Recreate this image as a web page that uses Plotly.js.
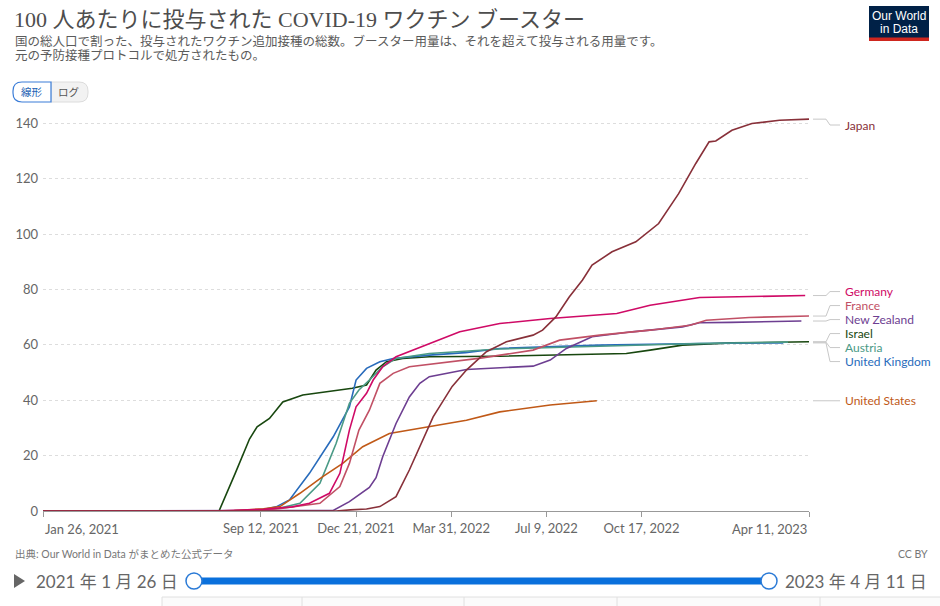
<!DOCTYPE html>
<html>
<head>
<meta charset="utf-8">
<script src="https://cdn.plot.ly/plotly-3.0.1.min.js"></script>
<style>html,body{margin:0;padding:0;background:#fff;}#chart{width:940px;height:606px;}</style>
</head>
<body>
<div id="chart"></div>
<script>
// ---------------- DATA ----------------
const countries = ['Japan','Germany','France','New Zealand','Israel','Austria','United Kingdom','United States'];

const japanDates = ['2021-01-26','2021-11-30','2021-12-15','2022-01-01','2022-01-15','2022-02-01','2022-02-15','2022-03-01','2022-03-08','2022-03-12','2022-04-01','2022-04-16','2022-05-07','2022-05-28','2022-06-25','2022-07-05','2022-07-19','2022-08-02','2022-08-16','2022-08-26','2022-09-16','2022-10-11','2022-11-04','2022-11-25','2022-12-13','2022-12-27','2023-01-03','2023-01-20','2023-02-10','2023-03-11','2023-04-11'];
const japanValues = [0,0,0.4,0.7,1.6,5.2,14.8,25.6,30.4,34,45,50.9,57.5,61.1,63.5,65.3,70.1,77.3,83.4,88.8,93.6,97.2,103.8,114.6,125.5,133.3,133.6,137.5,139.9,141.1,141.5];

const germanyDates = ['2021-01-26','2021-08-01','2021-09-15','2021-10-15','2021-11-02','2021-11-23','2021-12-04','2021-12-14','2021-12-21','2022-01-01','2022-01-08','2022-01-18','2022-02-01','2022-03-08','2022-04-09','2022-05-21','2022-07-13','2022-09-21','2022-10-26','2022-12-17','2023-02-25','2023-04-07'];
const germanyValues = [0,0.1,0.6,1.5,2.8,6.4,13.6,29.2,37.6,42.5,47.3,52.1,55.7,60.5,64.7,67.7,69.5,71.3,74.3,77.1,77.7,77.8];

const franceDates = ['2021-01-26','2021-09-01','2021-10-01','2021-10-23','2021-11-13','2021-12-04','2021-12-14','2021-12-24','2022-01-04','2022-01-15','2022-01-29','2022-02-15','2022-03-08','2022-04-01','2022-05-01','2022-06-25','2022-07-23','2022-09-03','2022-10-26','2022-12-07','2022-12-24','2023-02-07','2023-04-11'];
const franceValues = [0,0.1,0.8,1.8,2.8,8.8,17.2,29.2,36.4,46.1,49.7,52.1,53.0,54.0,55.2,58.1,61.7,63.5,65.3,67.1,68.9,69.9,70.4];

const newZealandDates = ['2021-01-26','2021-11-27','2021-12-14','2021-12-21','2022-01-04','2022-01-11','2022-01-18','2022-02-01','2022-02-15','2022-02-26','2022-03-08','2022-04-16','2022-06-25','2022-07-13','2022-07-30','2022-08-26','2022-10-07','2022-11-29','2022-12-17','2023-01-19','2023-04-03'];
const newZealandValues = [0,0.2,3.4,5,8.5,12,19.6,31.6,41.2,46.1,48.5,51.1,52.3,54.5,58.7,62.9,64.7,66.5,68,68.1,68.6];

const israelDates = ['2021-01-26','2021-07-30','2021-08-16','2021-08-31','2021-09-08','2021-09-21','2021-10-05','2021-10-26','2021-12-17','2022-01-01','2022-01-11','2022-01-22','2022-02-08','2022-03-08','2022-05-21','2022-08-01','2022-10-01','2022-10-26','2022-11-29','2023-01-19','2023-04-11'];
const israelValues = [0,0,13.6,26,30.4,33.4,39.4,41.9,44.3,45.5,50.9,53.9,55.1,55.7,55.9,56.5,56.9,58.1,59.9,60.7,61.1];

const austriaDates = ['2021-01-26','2021-09-01','2021-10-01','2021-10-23','2021-11-13','2021-11-30','2021-12-14','2021-12-24','2022-01-04','2022-01-18','2022-02-01','2022-03-08','2022-05-21','2022-09-03','2022-12-17','2023-03-20'];
const austriaValues = [0,0.2,1.0,2.8,10,24.4,38.9,43.7,47.3,52.1,55.1,56.9,58.5,59.6,60.5,61.0];

const ukDates = ['2021-01-26','2021-08-15','2021-09-14','2021-09-28','2021-10-12','2021-11-02','2021-11-27','2021-12-14','2021-12-21','2022-01-01','2022-01-15','2022-01-29','2022-03-08','2022-04-15','2022-05-21','2022-09-03','2022-12-17','2023-03-15'];
const ukValues = [0,0,0.5,1.5,4.0,13.6,26.8,37.6,47.3,51.5,53.9,55.1,56.3,57.2,58.7,59.9,60.5,60.7];

const usDates = ['2021-01-26','2021-08-15','2021-09-15','2021-10-02','2021-10-23','2021-11-16','2021-12-07','2021-12-28','2022-01-25','2022-02-15','2022-03-08','2022-04-16','2022-05-21','2022-07-13','2022-08-31'];
const usValues = [0,0.2,0.8,1.6,6.4,12.4,17.2,23.2,28,29.2,30.4,32.8,35.8,38.3,39.8];

const tickDates = ['2021-01-26','2021-09-12','2021-12-21','2022-03-31','2022-07-09','2022-10-17','2023-04-11'];
const tickLabels = ['Jan 26, 2021','Sep 12, 2021','Dec 21, 2021','Mar 31, 2022','Jul 9, 2022','Oct 17, 2022','Apr 11, 2023'];
const startLabel = '2021 年 1 月 26 日';
const endLabel = '2023 年 4 月 11 日';

// ---------------- STYLE ----------------
const seriesX = [japanDates,germanyDates,franceDates,newZealandDates,israelDates,austriaDates,ukDates,usDates];
const seriesY = [japanValues,germanyValues,franceValues,newZealandValues,israelValues,austriaValues,ukValues,usValues];
const colors = ['#883039','#CF0A66','#C15065','#6D3E91','#18470F','#4A9A86','#286BBB','#C05917'];

const W = 940, H = 606;
const PL = 43, PR = 809, PT = 115, PB = 511;
const YMAX = 143;
function px(x){ return (x - PL) / (PR - PL); }
function py(y){ return (PB - y) / (PB - PT); }
const unitsPerPx = YMAX / (PB - PT);

const SANS = 'Lato, "Noto Sans CJK JP", sans-serif';

// traces
const order = [4,6,5,7,3,2,1,0];
const traces = order.map(i => ({
  x: seriesX[i], y: seriesY[i], type: 'scatter', mode: 'lines', name: countries[i],
  line: {color: colors[i], width: 1.6}, hoverinfo: 'skip'
}));

// label placement (spread overlapping labels)
const labelGap = 14 * unitsPerPx;
const labelTop = YMAX - 10 * unitsPerPx;
const items = countries.map((c,i) => ({i, v: seriesY[i][seriesY[i].length-1]})).sort((a,b)=>b.v-a.v);
const groups = items.map(it => ({members:[it]}));
function placeGroup(g){
  const mean = g.members.reduce((s,m)=>s+m.v,0)/g.members.length;
  let start = mean + labelGap*(g.members.length-1)/2;
  if (start > labelTop) start = labelTop;
  g.members.forEach((m,k)=>{ m.label = start - k*labelGap; });
}
groups.forEach(placeGroup);
let mergedAny = true;
while (mergedAny) {
  mergedAny = false;
  for (let k = 0; k < groups.length-1; k++) {
    const a = groups[k], b = groups[k+1];
    const aLow = a.members[a.members.length-1].label, bHigh = b.members[0].label;
    if (aLow - bHigh < labelGap - 1e-6) {
      const g = {members: a.members.concat(b.members)};
      placeGroup(g);
      groups.splice(k, 2, g);
      mergedAny = true; break;
    }
  }
}

const annotations = [];
const shapes = [];
items.forEach(m => {
  annotations.push({xref:'paper', yref:'y', x: px(843), y: m.label, xanchor:'left', yanchor:'middle',
    text: countries[m.i], showarrow:false, font:{family:SANS, size:12, color: colors[m.i]}});
  shapes.push({type:'path', xref:'paper', yref:'y', layer:'above',
    path: `M ${px(813)},${m.v} L ${px(826)},${m.v} L ${px(830)},${m.label} L ${px(840)},${m.label}`,
    line:{color:'#c8c8c8', width:1}});
});

// first/last tick labels (left/right aligned)
annotations.push({xref:'x', yref:'paper', x: tickDates[0], y: py(519), xanchor:'left', yanchor:'top', showarrow:false,
  text: tickLabels[0], font:{family:SANS, size:13, color:'#666'}});
annotations.push({xref:'x', yref:'paper', x: tickDates[tickDates.length-1], y: py(519), xanchor:'right', yanchor:'top', showarrow:false,
  text: tickLabels[tickLabels.length-1], font:{family:SANS, size:13, color:'#666'}});
const midText = tickLabels.map((t,k)=> (k===0||k===tickLabels.length-1) ? '' : t);

// header
annotations.push({xref:'paper', yref:'paper', x: px(12), y: py(19), xanchor:'left', yanchor:'middle', showarrow:false,
  text:'100 人あたりに投与された COVID-19 ワクチン ブースター',
  font:{family:'"Liberation Serif", "Noto Sans CJK JP", serif', size:22, color:'#4d4d4d'}});
annotations.push({xref:'paper', yref:'paper', x: px(13), y: py(41), xanchor:'left', yanchor:'middle', showarrow:false,
  text:'国の総人口で割った、投与されたワクチン追加接種の総数。ブースター用量は、それを超えて投与される用量です。',
  font:{family:SANS, size:12.5, color:'#5b5b5b'}});
annotations.push({xref:'paper', yref:'paper', x: px(13), y: py(56), xanchor:'left', yanchor:'middle', showarrow:false,
  text:'元の予防接種プロトコルで処方されたもの。',
  font:{family:SANS, size:12.5, color:'#5b5b5b'}});

// logo
shapes.push({type:'rect', xref:'paper', yref:'paper', x0:px(869), x1:px(929), y0:py(41), y1:py(6), fillcolor:'#002147', line:{width:0}});
shapes.push({type:'rect', xref:'paper', yref:'paper', x0:px(869), x1:px(929), y0:py(41), y1:py(37.5), fillcolor:'#ce261e', line:{width:0}});
annotations.push({xref:'paper', yref:'paper', x: px(899), y: py(16), xanchor:'center', yanchor:'middle', showarrow:false,
  text:'Our World', font:{family:'"Liberation Sans Narrow", "Liberation Sans", sans-serif', size:12, color:'#fff'}});
annotations.push({xref:'paper', yref:'paper', x: px(899), y: py(29), xanchor:'center', yanchor:'middle', showarrow:false,
  text:'in Data', font:{family:'"Liberation Sans Narrow", "Liberation Sans", sans-serif', size:12, color:'#fff'}});

// linear/log buttons
function roundLeft(x0,x1,y0,y1,r){
  return `M ${px(x1)},${py(y0)} L ${px(x0+r)},${py(y0)} Q ${px(x0)},${py(y0)} ${px(x0)},${py(y0+r)} L ${px(x0)},${py(y1-r)} Q ${px(x0)},${py(y1)} ${px(x0+r)},${py(y1)} L ${px(x1)},${py(y1)} Z`;
}
function roundRight(x0,x1,y0,y1,r){
  return `M ${px(x0)},${py(y0)} L ${px(x1-r)},${py(y0)} Q ${px(x1)},${py(y0)} ${px(x1)},${py(y0+r)} L ${px(x1)},${py(y1-r)} Q ${px(x1)},${py(y1)} ${px(x1-r)},${py(y1)} L ${px(x0)},${py(y1)} Z`;
}
shapes.push({type:'path', xref:'paper', yref:'paper', path: roundRight(51,88,82,102,9), fillcolor:'#f2f2f2', line:{color:'#dcdcdc', width:1}});
shapes.push({type:'path', xref:'paper', yref:'paper', path: roundLeft(13,51,82,102,9), fillcolor:'#ffffff', line:{color:'#3b7dd8', width:1.2}});
annotations.push({xref:'paper', yref:'paper', x: px(32), y: py(92), xanchor:'center', yanchor:'middle', showarrow:false,
  text:'線形', font:{family:SANS, size:10.5, color:'#1d5fb4'}});
annotations.push({xref:'paper', yref:'paper', x: px(69), y: py(92), xanchor:'center', yanchor:'middle', showarrow:false,
  text:'ログ', font:{family:SANS, size:10.5, color:'#555'}});

// footer
annotations.push({xref:'paper', yref:'paper', x: px(13), y: py(554), xanchor:'left', yanchor:'middle', showarrow:false,
  text:'出典: Our World in Data がまとめた公式データ', font:{family:SANS, size:10.5, color:'#777'}});
annotations.push({xref:'paper', yref:'paper', x: px(930), y: py(554), xanchor:'right', yanchor:'middle', showarrow:false,
  text:'CC BY', font:{family:SANS, size:10.5, color:'#777'}});

// timeline
shapes.push({type:'path', xref:'paper', yref:'paper', path:`M ${px(14)},${py(574)} L ${px(25)},${py(581)} L ${px(14)},${py(588)} Z`, fillcolor:'#666', line:{width:0}});
annotations.push({xref:'paper', yref:'paper', x: px(34), y: py(581), xanchor:'left', yanchor:'middle', showarrow:false,
  text:startLabel, font:{family:SANS, size:17, color:'#666'}});
annotations.push({xref:'paper', yref:'paper', x: px(929), y: py(581), xanchor:'right', yanchor:'middle', showarrow:false,
  text:endLabel, font:{family:SANS, size:17, color:'#666'}});
shapes.push({type:'line', xref:'paper', yref:'paper', x0:px(194), x1:px(769), y0:py(581), y1:py(581), line:{color:'#0a70dc', width:7}});
[194,769].forEach(cx => {
  shapes.push({type:'circle', xref:'paper', yref:'paper', x0:px(cx-8), x1:px(cx+8), y0:py(589), y1:py(573), fillcolor:'#fff', line:{color:'#2a7ad6', width:1.5}});
});
// tabs strip
shapes.push({type:'rect', xref:'paper', yref:'paper', x0:px(162), x1:px(941), y0:py(607), y1:py(597), fillcolor:'#fbfbfb', line:{color:'#e0e0e0', width:1}});
[302,464,617,820].forEach(vx => {
  shapes.push({type:'line', xref:'paper', yref:'paper', x0:px(vx), x1:px(vx), y0:py(597), y1:py(607), line:{color:'#e0e0e0', width:1}});
});

const layout = {
  width: W, height: H,
  margin: {l: PL, r: W-PR, t: PT, b: H-PB, pad: 0},
  paper_bgcolor: '#fff', plot_bgcolor: '#fff',
  showlegend: false,
  font: {family: SANS, color: '#666'},
  xaxis: {
    type: 'date', range: [tickDates[0], tickDates[tickDates.length-1]],
    tickmode: 'array', tickvals: tickDates, ticktext: midText,
    showgrid: false, zeroline: false, showline: true, linecolor: '#999', linewidth: 1,
    ticks: 'outside', ticklen: 5, tickcolor: '#999',
    tickfont: {family: SANS, size: 13, color: '#666'}, fixedrange: true
  },
  yaxis: {
    range: [0, YMAX], tickmode: 'array', tickvals: [0,20,40,60,80,100,120,140],
    showgrid: true, gridcolor: '#dddddd', griddash: '3px,3px', gridwidth: 1,
    zeroline: false, showline: false, ticks: '',
    tickfont: {family: SANS, size: 13, color: '#666'}, ticklabelstandoff: 4, fixedrange: true
  },
  annotations: annotations,
  shapes: shapes
};

Plotly.newPlot('chart', traces, layout, {displayModeBar: false, staticPlot: true});
</script>
</body>
</html>
